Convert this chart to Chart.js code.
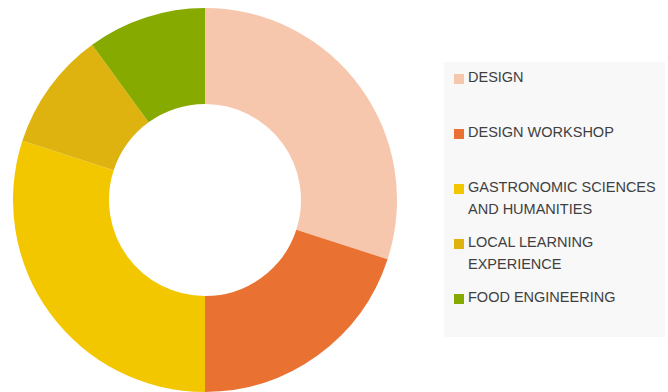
<!DOCTYPE html>
<html>
<head>
<meta charset="utf-8">
<script src="https://cdn.jsdelivr.net/npm/chart.js@4.4.1/dist/chart.umd.min.js"></script>
<style>
  html, body { margin: 0; padding: 0; background: #ffffff; }
  body { width: 668px; height: 392px; position: relative; overflow: hidden; }
  #wrap { position: absolute; left: 13px; top: 8px; width: 384px; height: 384px; }
  #legend { position: absolute; left: 444px; top: 62px; width: 221px; height: 275px; background: #f8f8f8; }
  .item { position: absolute; left: 0; width: 221px; font-family: "Liberation Sans", Arial, sans-serif; font-size: 14.5px; line-height: 22px; color: #404040; }
  .sw { position: absolute; left: 10px; top: 8px; width: 10px; height: 10px; }
  .tx { position: absolute; left: 24px; top: 0; width: 195px; }
</style>
</head>
<body>
<div id="wrap"><canvas id="c"></canvas></div>
<div id="legend"></div>
<script>
const categories = ["DESIGN", "DESIGN WORKSHOP", "GASTRONOMIC SCIENCES AND HUMANITIES", "LOCAL LEARNING EXPERIENCE", "FOOD ENGINEERING"];
const legendLines = [["DESIGN"], ["DESIGN WORKSHOP"], ["GASTRONOMIC SCIENCES", "AND HUMANITIES"], ["LOCAL LEARNING", "EXPERIENCE"], ["FOOD ENGINEERING"]];
const values = [30, 20, 30, 10, 10];
const colors = ["#F6C7AD", "#E97233", "#F3C700", "#DEB30F", "#86AA00"];

new Chart(document.getElementById('c'), {
  type: 'doughnut',
  data: {
    labels: categories,
    datasets: [{ data: values, backgroundColor: colors, borderWidth: 0 }]
  },
  options: {
    responsive: true,
    maintainAspectRatio: false,
    animation: false,
    cutout: '50%',
    layout: { padding: 0 },
    plugins: { legend: { display: false }, tooltip: { enabled: false } }
  }
});

const legend = document.getElementById('legend');
legendLines.forEach((lines, i) => {
  const it = document.createElement('div');
  it.className = 'item';
  it.style.top = (4 + 55 * i) + 'px';
  const sw = document.createElement('div');
  sw.className = 'sw';
  sw.style.background = colors[i];
  const tx = document.createElement('div');
  tx.className = 'tx';
  tx.innerHTML = lines.join('<br>');
  it.appendChild(sw);
  it.appendChild(tx);
  legend.appendChild(it);
});
</script>
</body>
</html>
